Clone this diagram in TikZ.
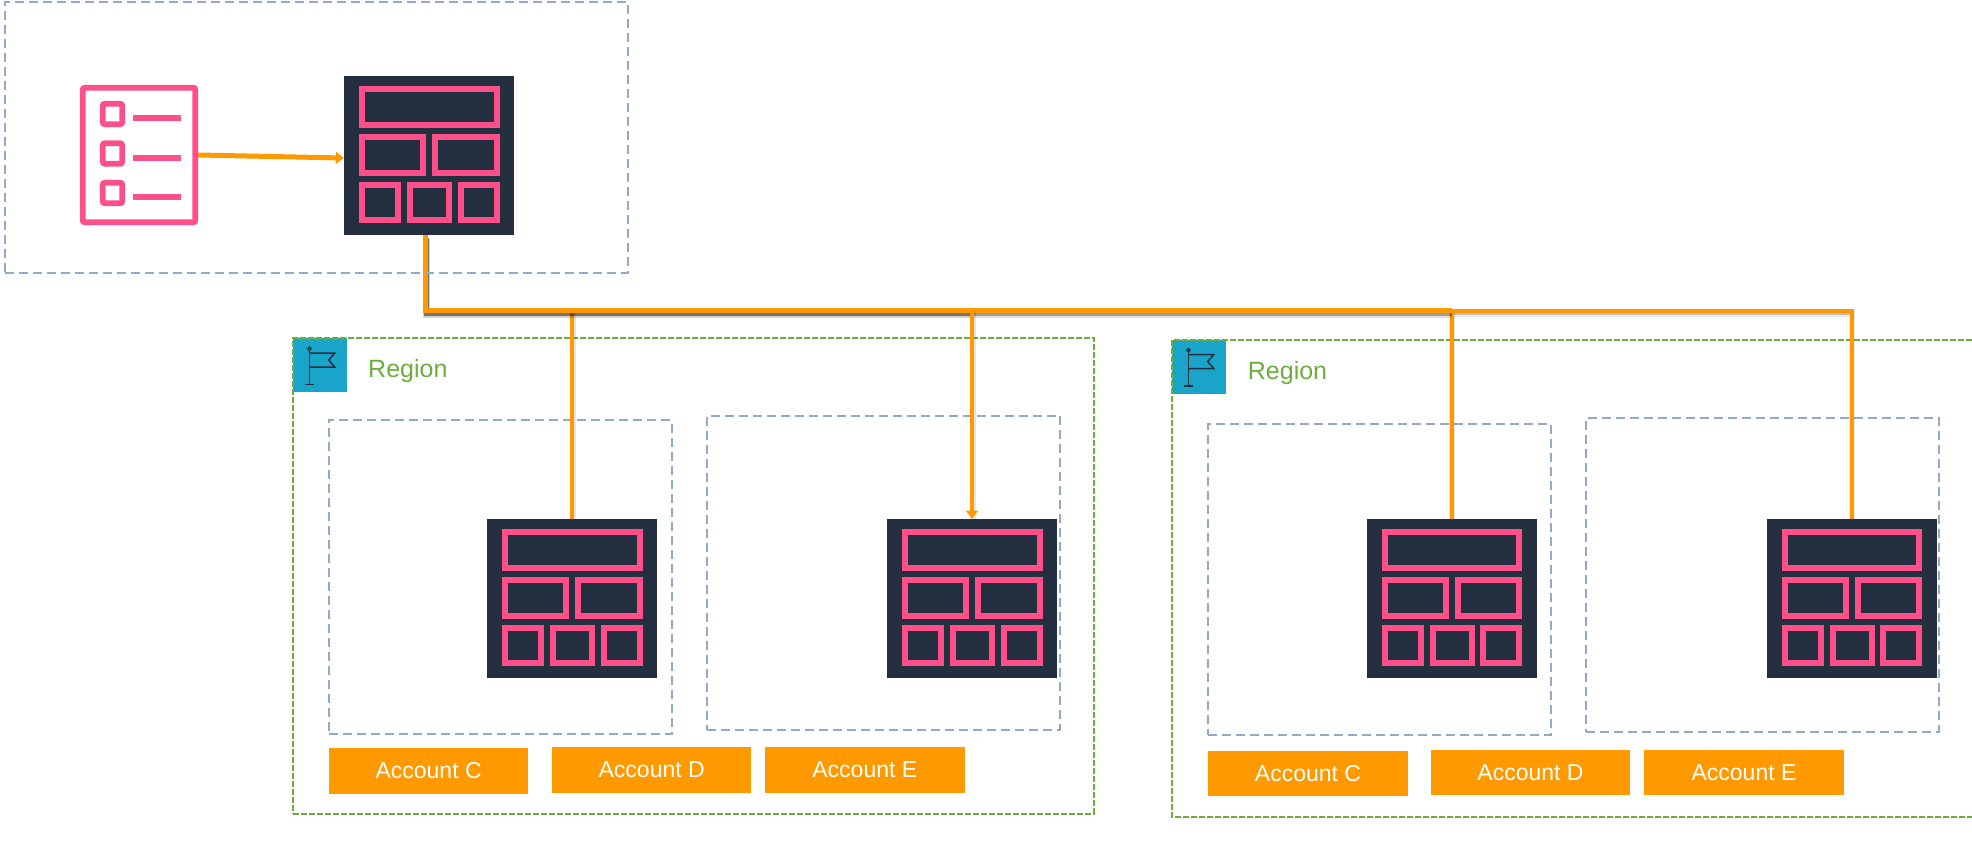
\documentclass[tikz,border=0pt]{standalone}
\usepackage{fontspec}
\setmainfont{Liberation Sans}
\usetikzlibrary{arrows.meta,backgrounds}

\definecolor{awsorange}{HTML}{FF9900}
\definecolor{awsdark}{HTML}{232F3E}
\definecolor{awspink}{HTML}{FF4F8B}
\definecolor{tileblue}{HTML}{19A4CA}
\definecolor{regiongreen}{HTML}{6CAE3E}
\definecolor{dashblue}{HTML}{93A9C9}

\tikzset{
    softshadow/.style 2 args={
        preaction={draw=black,draw opacity=0.4*#2,line width=#1+2pt,transform canvas={xshift=0.7pt,yshift=-3.5pt}},
        preaction={draw=black,draw opacity=#2,line width=#1,transform canvas={xshift=0.7pt,yshift=-2.5pt}}
    },
    dropshadow/.style={
        preaction={draw=black,draw opacity=0.10,line width=6pt,transform canvas={xshift=0.5pt}}
    },
    busline/.style={draw=awsorange,line width=5pt,line join=miter,softshadow={5pt}{#1}},
    thinbus/.style={draw=awsorange,line width=3.8pt,line join=miter,softshadow={3.8pt}{0.2}},
    dropline/.style={draw=awsorange,line width=4pt,dropshadow},
    tipline/.style={draw=awsorange,line width=4pt,-{Triangle[width=12pt,length=8pt]}},
    acctdash/.style={draw=dashblue,line width=2.3pt,dash pattern=on 9pt off 5pt,inner sep=0pt},
    regiondash/.style={draw=regiongreen,line width=2.3pt,dash pattern=on 6pt off 2pt,inner sep=0pt},
    acctbox/.style={fill=awsorange,text=white,inner sep=0pt,minimum width=199.5pt,minimum height=45.7pt,font=\fontsize{23}{27}\selectfont},
    regionlabel/.style={text=regiongreen,anchor=base west,inner sep=0pt,font=\fontsize{25}{30}\selectfont},
    gridline/.style={draw=awspink,line width=6pt},
    listline/.style={draw=awspink,line width=5.8pt},
    gridicon/.pic={
        \node[fill=awsdark,inner sep=0pt,minimum width=170pt,minimum height=159pt] (-box) at (85,79.5) {};
        \draw[gridline] (18,13) rectangle (152.6,49);
        \draw[gridline] (18,61) rectangle (79,97);
        \draw[gridline] (91,61) rectangle (152.6,97);
        \draw[gridline] (18,109) rectangle (54,144);
        \draw[gridline] (66,109) rectangle (105,144);
        \draw[gridline] (116.5,109) rectangle (152.6,144);
    },
    flagtile/.pic={
        \fill[tileblue] (0,0) rectangle (54,54);
        \draw[awsdark,line width=1.5pt] (16.4,12.5) -- (16.4,46.7);
        \draw[awsdark,line width=1.5pt] (12,46.7) -- (21,46.7);
        \draw[awsdark,line width=1.2pt] (16.4,10.7) circle (1.7pt);
        \draw[awsdark,line width=1.5pt] (16.4,15.2) -- (41.7,15.2) -- (35.7,22) -- (41.7,29) -- (16.4,29);
    }
}

\begin{document}
\begin{tikzpicture}[x=1pt,y=-1pt]
\useasboundingbox (0,0) rectangle (1972,845);

\begin{pgfonlayer}{background}
% === Region tiles ===
\pic at (293,338) {flagtile};
\pic at (1172,339.5) {flagtile};

% === Region frames ===
\node[regiondash,minimum width=800.7pt,minimum height=475.7pt] (regionA) at (693.35,575.85) {};
\draw[regiondash] (1972,339.7) -- (1172.3,339.7) -- (1172.3,817) -- (1972,817);

% === Account frames ===
\node[acctdash,minimum width=342.7pt,minimum height=314pt] (frameAC) at (500.35,576.8) {};
\node[acctdash,minimum width=353.3pt,minimum height=314pt] (frameAD) at (883.65,572.75) {};
\node[acctdash,minimum width=342.7pt,minimum height=311.6pt] (frameBC) at (1379.35,579.5) {};
\node[acctdash,minimum width=352.7pt,minimum height=313.7pt] (frameBD) at (1762.35,574.85) {};
\end{pgfonlayer}

\node[regionlabel] (regionAlabel) at (368,377) {Region};
\node[regionlabel] (regionBlabel) at (1247.7,379.3) {Region};

% === Account labels ===
\node[acctbox] (acctAC) at (428.6,770.7) {Account C};
\node[acctbox] (acctAD) at (651.7,769.8) {Account D};
\node[acctbox] (acctAE) at (864.8,769.8) {Account E};
\node[acctbox] (acctBC) at (1308,773.5) {Account C};
\node[acctbox] (acctBD) at (1530.5,772.5) {Account D};
\node[acctbox] (acctBE) at (1744,772.5) {Account E};

% === Grid icons ===
\pic (gridA) at (344,76) {gridicon};
\pic (gridB) at (487,518.9) {gridicon};
\pic (gridC) at (887,518.9) {gridicon};
\pic (gridD) at (1366.6,519.2) {gridicon};
\pic (gridE) at (1766.6,519.2) {gridicon};

% === Checklist ===
\node[listline,inner sep=0pt,rounded corners=2pt,minimum width=112.5pt,minimum height=134.5pt] (checklist) at (139,155) {};
\foreach \ybox/\yline in {114/118,153.5/158,193/197} {
    \draw[listline,rounded corners=2pt] (102.8,\ybox-10.2) rectangle (122.2,\ybox+10.2);
    \draw[awspink,line width=6pt] (133,\yline) -- (181,\yline);
}

% === Connectors ===
\coordinate (busleft) at (425.5,310.8);
\coordinate (arrowin) at ([yshift=-2.5pt]gridA-box.west);
\begin{pgfonlayer}{background}
\draw[thinbus] (gridD-box.north |- busleft) -- (gridE-box.north |- busleft) -- (gridE-box.north);
\draw[dropline] (gridB-box.north |- busleft) -- (gridB-box.north);
\draw[dropline] (gridD-box.north |- busleft) -- (gridD-box.north);
\draw[busline=0.3] (gridC-box.north |- busleft) -- (gridD-box.north |- busleft);
\draw[busline=0.45] (gridA-box.south -| busleft) -- (busleft) -- (gridC-box.north |- busleft);
\draw[dropshadow,draw=none] (gridC-box.north |- busleft) -- (gridC-box.north);
\draw[tipline] (gridC-box.north |- busleft) -- (gridC-box.north);
\draw[tipline,line width=5pt] (checklist.east) -- (arrowin);
\end{pgfonlayer}

% === Source frame ===
\node[acctdash,minimum width=623pt,minimum height=271pt] (frameTop) at (316.5,137.5) {};

\end{tikzpicture}
\end{document}
